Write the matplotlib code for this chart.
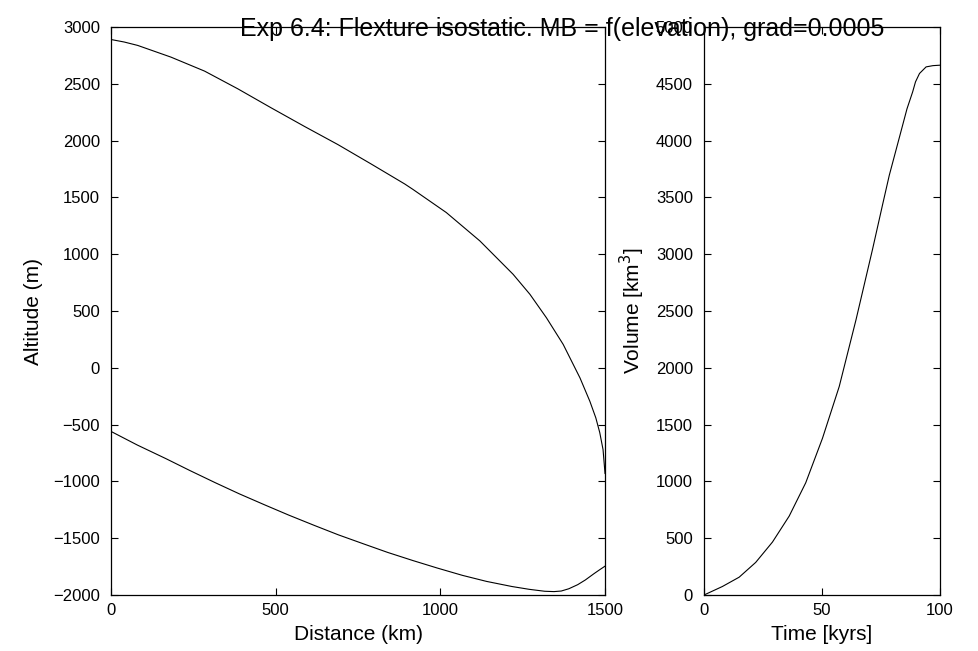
import matplotlib.pyplot as plt

plt.rcParams['font.family'] = ['Liberation Sans', 'DejaVu Sans']

# left panel: ice surface and bed profiles
dist_surface = [0, 40, 81, 182, 284, 385, 486, 588, 689, 790, 892, 917, 1018, 1120,
                1221, 1272, 1322, 1373, 1424, 1454, 1472, 1484, 1494, 1500]
alt_surface = [2890, 2868, 2838, 2735, 2612, 2456, 2289, 2124, 1965, 1794, 1618, 1570, 1367,
               1117, 823, 647, 441, 206, -89, -295, -440, -570, -720, -930]
dist_bed = [0, 80, 167, 240, 317, 390, 467, 540, 617, 690, 767, 840, 917, 990, 1067,
            1140, 1217, 1270, 1317, 1345, 1367, 1390, 1417, 1440, 1467, 1485, 1500]
alt_bed = [-560, -680, -800, -905, -1012, -1110, -1207, -1297, -1387, -1470, -1550, -1625,
           -1697, -1762, -1827, -1880, -1925, -1950, -1967, -1970, -1965, -1945, -1909,
           -1868, -1811, -1775, -1746]

# right panel: ice volume through time
time_kyr = [0, 7.8, 14.9, 21.9, 29.0, 36.1, 43.1, 50.2, 57.3, 64.4, 71.4, 75.7, 78.5,
            82.8, 86.0, 88.4, 89.6, 91.3, 94.1, 97.0, 100]
volume = [0, 75, 157, 287, 466, 695, 988, 1380, 1836, 2423, 3043, 3440, 3695,
          4030, 4280, 4429, 4517, 4591, 4649, 4660, 4664]

fig = plt.figure(figsize=(9.79, 6.51), dpi=100)
ax1 = fig.add_axes([0.1134, 0.086, 0.5046, 0.8725])
ax2 = fig.add_axes([0.7191, 0.086, 0.2411, 0.8725])

ax1.plot(dist_surface, alt_surface, color='k', lw=0.8)
ax1.plot(dist_bed, alt_bed, color='k', lw=0.8)
ax1.set_xlim(0, 1500)
ax1.set_ylim(-2000, 3000)
ax1.set_xticks([0, 500, 1000, 1500])
ax1.set_yticks(range(-2000, 3001, 500))
ax1.set_xlabel('Distance (km)', fontsize=15, labelpad=5)
ax1.set_ylabel('Altitude (m)', fontsize=15, labelpad=7)

ax2.plot(time_kyr, volume, color='k', lw=0.8)
ax2.set_xlim(0, 100)
ax2.set_ylim(0, 5000)
ax2.set_xticks([0, 50, 100])
ax2.set_yticks(range(0, 5001, 500))
ax2.set_xlabel('Time [kyrs]', fontsize=15, labelpad=5)
ax2.set_ylabel('Volume [km$^3$]', fontsize=15, labelpad=6)

for ax in (ax1, ax2):
    ax.tick_params(direction='in', top=True, right=True, length=5, width=0.8,
                   labelsize=12)
    ax.tick_params(axis='x', pad=6)
    ax.tick_params(axis='y', pad=8)
    for sp in ax.spines.values():
        sp.set_linewidth(0.9)

fig.text(0.574, 0.945, 'Exp 6.4: Flexture isostatic. MB = f(elevation), grad=0.0005',
         ha='center', va='baseline', fontsize=18)

fig.savefig('out.png', dpi=100)
